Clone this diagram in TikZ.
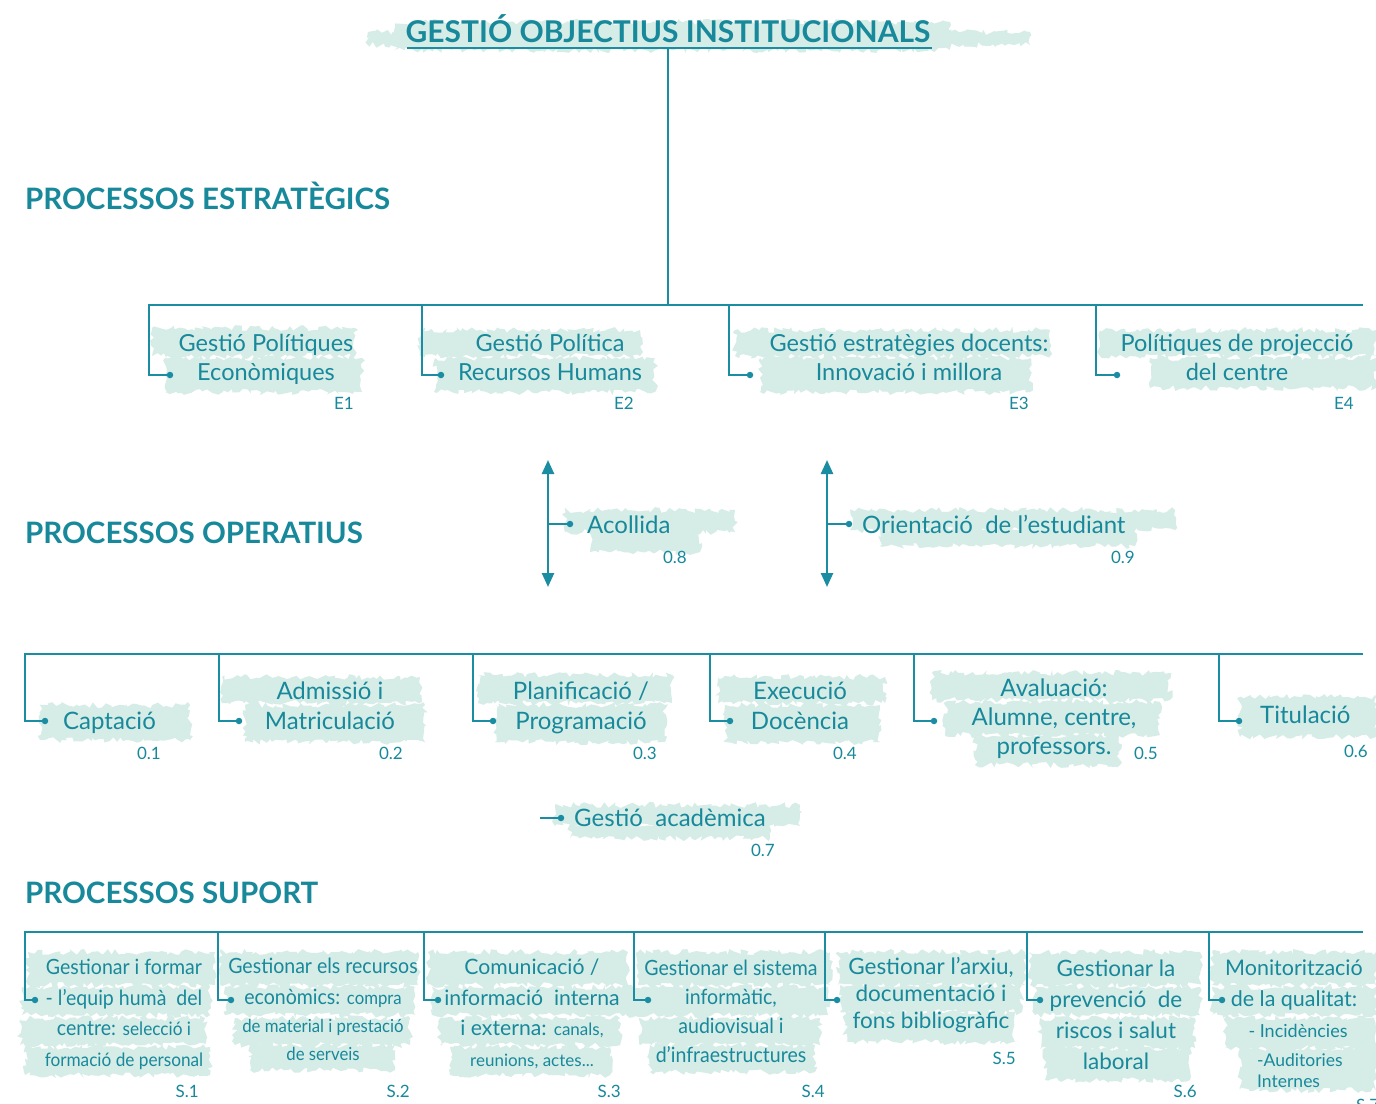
\documentclass[tikz,border=0pt]{standalone}
\usepackage{fontspec}
\setmainfont{Lato}
\newfontfamily\condf[FakeStretch=0.93]{Lato}
\usetikzlibrary{arrows.meta,decorations.pathmorphing}
\definecolor{txtc}{HTML}{17899B}
\definecolor{linec}{HTML}{1B8DA3}
\definecolor{washc}{HTML}{D6ECE7}
\tikzset{
  ln/.style={draw=linec, line width=2.4pt, line cap=rect},
  dotn/.style={circle, fill=linec, inner sep=0pt, minimum size=6.5pt},
  txt/.style={text=txtc, font=\fontsize{23.5}{29}\selectfont, align=center, inner sep=0pt, anchor=base},
  otxt/.style={text=txtc, font=\fontsize{24}{30}\selectfont, align=center, inner sep=0pt, anchor=base},
  stxt/.style={text=txtc, font=\condf\fontsize{21}{30.5}\selectfont, align=center, inner sep=0pt, anchor=base},
  ntxt/.style={text=txtc, font=\fontsize{22}{30.5}\selectfont, align=center, inner sep=0pt, anchor=base},
  codel/.style={text=txtc, font=\fontsize{17}{20}\selectfont, inner sep=0pt, anchor=base east},
  head/.style={text=txtc, font=\bfseries\fontsize{29.5}{32}\selectfont, inner sep=0pt, anchor=base west},
  titl/.style={text=txtc, font=\bfseries\fontsize{30}{32}\selectfont, inner sep=0pt, anchor=base},
  wash/.style={fill=washc, decorate, decoration={random steps, segment length=3.5pt, amplitude=3pt}},
  dblarr/.style={ln, line cap=butt, {Triangle[length=14pt,width=12pt]}-{Triangle[length=14pt,width=12pt]}},
}
\newcommand\wsh[4]{\fill[wash] (#1,#2) rectangle (#3,#4);}
\newcommand\sma{\fontsize{18.5}{30}\selectfont}
\newcommand\smb{\fontsize{18}{30}\selectfont}
\newcommand\smc{\fontsize{17}{30}\selectfont}
\begin{document}
\begin{tikzpicture}[x=1pt,y=-1pt]
\pgfmathsetseed{11}
\clip (0,0) rectangle (1376,1103);
\fill[white] (0,0) rectangle (1376,1103);

% ---------- washes ----------
\wsh{395}{22}{950}{50}\wsh{368}{32}{1030}{45}
\wsh{152}{328}{355}{356}\wsh{165}{358}{362}{392}
\wsh{420}{330}{640}{356}\wsh{435}{358}{655}{392}
\wsh{735}{330}{1050}{356}\wsh{760}{358}{1030}{392}
\wsh{1100}{330}{1376}{356}\wsh{1150}{358}{1376}{388}
\wsh{565}{510}{735}{532}\wsh{590}{530}{700}{552}
\wsh{850}{510}{1175}{530}\wsh{880}{528}{1135}{546}
\wsh{40}{705}{190}{740}
\wsh{222}{677}{420}{703}\wsh{245}{705}{425}{742}
\wsh{478}{675}{672}{703}\wsh{495}{705}{665}{742}
\wsh{718}{677}{885}{703}\wsh{725}{705}{880}{742}
\wsh{932}{673}{1170}{700}\wsh{945}{702}{1160}{735}\wsh{975}{735}{1120}{765}
\wsh{1240}{697}{1376}{737}
\wsh{555}{805}{800}{826}\wsh{570}{824}{770}{838}
\wsh{28}{952}{215}{985}\wsh{22}{987}{210}{1015}\wsh{20}{1018}{205}{1045}\wsh{25}{1047}{210}{1075}
\wsh{220}{952}{418}{985}\wsh{225}{987}{415}{1015}\wsh{235}{1018}{410}{1045}\wsh{250}{1045}{395}{1070}
\wsh{428}{952}{628}{985}\wsh{432}{987}{625}{1015}\wsh{440}{1018}{620}{1045}\wsh{450}{1047}{610}{1075}
\wsh{638}{952}{830}{985}\wsh{622}{987}{828}{1015}\wsh{640}{1018}{820}{1045}\wsh{650}{1045}{815}{1072}
\wsh{838}{952}{1025}{985}\wsh{840}{985}{1022}{1012}\wsh{845}{1012}{1015}{1042}
\wsh{1030}{952}{1200}{985}\wsh{1035}{987}{1200}{1015}\wsh{1040}{1018}{1195}{1048}\wsh{1045}{1048}{1190}{1080}
\wsh{1212}{952}{1376}{985}\wsh{1212}{987}{1376}{1015}\wsh{1225}{1018}{1376}{1048}\wsh{1240}{1048}{1376}{1090}

% ---------- title ----------
\node[titl] (title) at (668,42) {GESTIÓ OBJECTIUS INSTITUCIONALS};
\coordinate (ulL) at (407,48);
\coordinate (ulR) at (932,48);
\coordinate (ulM) at (668,48);
\draw[ln, line cap=butt] (ulL) -- (ulR);

% ---------- headings ----------
\node[head] (hE) at (25,209) {PROCESSOS ESTRATÈGICS};
\node[head] (hO) at (25,543) {PROCESSOS OPERATIUS};
\node[head] (hS) at (25,903) {PROCESSOS SUPORT};

% ---------- strategic ----------
\coordinate (busE) at (668,305);
\coordinate (eR) at (1362,305);
\coordinate (e1) at (149,305);
\coordinate (e2) at (422,305);
\coordinate (e3) at (729,305);
\coordinate (e4) at (1096,305);
\draw[ln, line cap=butt] (ulM) -- (busE);
\draw[ln] (e1) -- (eR);
\node[dotn] (dE1) at (170,375) {};
\node[dotn] (dE2) at (441,375) {};
\node[dotn] (dE3) at (750,375) {};
\node[dotn] (dE4) at (1117,375) {};
\draw[ln] (e1) |- (dE1);
\draw[ln] (e2) |- (dE2);
\draw[ln] (e3) |- (dE3);
\draw[ln] (e4) |- (dE4);
\node[txt] (tE1) at (266,380) {Gestió Polítiques\\Econòmiques};
\node[txt] (tE2) at (550,380) {Gestió Política\\Recursos Humans};
\node[txt] (tE3) at (909,380) {Gestió estratègies docents:\\Innovació i millora};
\node[txt] (tE4) at (1237,380) {Polítiques de projecció\\del centre};
\node[codel] (cE1) at (354,409) {E1};
\node[codel] (cE2) at (634,409) {E2};
\node[codel] (cE3) at (1029,409) {E3};
\node[codel] (cE4) at (1354,409) {E4};

% ---------- operative arrows ----------
\coordinate (a1t) at (548,460);
\coordinate (a1b) at (548,587);
\coordinate (a1m) at (548,524);
\coordinate (a2t) at (827,460);
\coordinate (a2b) at (827,587);
\coordinate (a2m) at (827,524);
\draw[dblarr] (a1t) -- (a1b);
\draw[dblarr] (a2t) -- (a2b);
\node[dotn] (dA) at (570,524) {};
\node[dotn] (dOr) at (849,524) {};
\draw[ln, line cap=butt] (a1m) -- (dA);
\draw[ln, line cap=butt] (a2m) -- (dOr);
\node[otxt, anchor=base west] (tA) at (587,533) {Acollida};
\node[otxt, anchor=base west] (tOr) at (862,533) {Orientació\ \ de l’estudiant};
\node[codel] (c08) at (687,563) {0.8};
\node[codel] (c09) at (1135,563) {0.9};

% ---------- operative row ----------
\coordinate (o1) at (25,654);
\coordinate (o2) at (219,654);
\coordinate (o3) at (473,654);
\coordinate (o4) at (710,654);
\coordinate (o5) at (914,654);
\coordinate (o6) at (1219,654);
\coordinate (oR) at (1362,654);
\draw[ln] (o1) -- (oR);
\node[dotn] (dO1) at (45,721) {};
\node[dotn] (dO2) at (239,721) {};
\node[dotn] (dO3) at (493,721) {};
\node[dotn] (dO4) at (730,721) {};
\node[dotn] (dO5) at (934,721) {};
\node[dotn] (dO6) at (1239,721) {};
\draw[ln] (o1) |- (dO1);
\draw[ln] (o2) |- (dO2);
\draw[ln] (o3) |- (dO3);
\draw[ln] (o4) |- (dO4);
\draw[ln] (o5) |- (dO5);
\draw[ln] (o6) |- (dO6);
\node[otxt, anchor=base west] (tO1) at (63,729) {Captació};
\node[otxt] (tO2) at (330,729) {Admissió i\\Matriculació};
\node[otxt] (tO3) at (581,729) {Planificació /\\Programació};
\node[otxt] (tO4) at (800,729) {Execució\\Docència};
\node[otxt, font=\fontsize{24}{29}\selectfont] (tO5) at (1054,754) {Avaluació:\\Alumne, centre,\\professors.};
\node[otxt, anchor=base west] (tO6) at (1260,723) {Titulació};
\node[codel] (c01) at (161,759) {0.1};
\node[codel] (c02) at (403,759) {0.2};
\node[codel] (c03) at (657,759) {0.3};
\node[codel] (c04) at (857,759) {0.4};
\node[codel] (c05) at (1158,759) {0.5};
\node[codel] (c06) at (1368,757) {0.6};

\coordinate (gL) at (540,818);
\node[dotn] (dG) at (561,818) {};
\draw[ln, line cap=butt] (gL) -- (dG);
\node[otxt, anchor=base west] (tG) at (574,826) {Gestió\ \ acadèmica};
\node[codel] (c07) at (775,856) {0.7};

% ---------- support row ----------
\coordinate (s1) at (25,932);
\coordinate (s2) at (218,932);
\coordinate (s3) at (424,932);
\coordinate (s4) at (634,932);
\coordinate (s5) at (825,932);
\coordinate (s6) at (1027,932);
\coordinate (s7) at (1209,932);
\coordinate (sR) at (1362,932);
\draw[ln] (s1) -- (sR);
\node[dotn] (dS1) at (35,1000) {};
\node[dotn] (dS2) at (231,1000) {};
\node[dotn] (dS3) at (438,1000) {};
\node[dotn] (dS4) at (648,1000) {};
\node[dotn] (dS5) at (837,1000) {};
\node[dotn] (dS6) at (1040,1000) {};
\node[dotn] (dS7) at (1222,1000) {};
\draw[ln] (s1) |- (dS1);
\draw[ln] (s2) |- (dS2);
\draw[ln] (s3) |- (dS3);
\draw[ln] (s4) |- (dS4);
\draw[ln] (s5) |- (dS5);
\draw[ln] (s6) |- (dS6);
\draw[ln] (s7) |- (dS7);
\node[stxt] (tS1) at (124,1066) {Gestionar i formar\\- l’equip humà\ \ del\\centre: {\sma selecció i}\\{\sma formació de personal}};
\node[stxt] (tS2) at (323,1060) {Gestionar els recursos\\econòmics: {\smb compra}\\[-2pt]{\smb de material i prestació}\\[-3pt]{\smb de serveis}};
\node[ntxt, font=\fontsize{21.2}{30.5}\selectfont] (tS3) at (532,1066) {Comunicació /\\informació\ \ interna\\i externa: {\smc canals,}\\{\smc reunions, actes...}};
\node[stxt] (tS4) at (731,1062) {Gestionar el sistema\\[-1.5pt]informàtic,\\[-1.5pt]audiovisual i\\[-1.5pt]d’infraestructures};
\node[ntxt, font=\fontsize{22.5}{30.5}\selectfont] (tS5) at (931,1028) {Gestionar l’arxiu,\\[-3.5pt]documentació i\\[-3.5pt]fons bibliogràfic};
\node[ntxt, font=\fontsize{22.5}{31}\selectfont] (tS6) at (1116,1069) {Gestionar la\\prevenció\ \ de\\riscos i salut\\laboral};
\node[ntxt, font=\fontsize{21.5}{31}\selectfont] (tS7) at (1294,1006) {Monitorització\\de la qualitat:};
\node[text=txtc, font=\fontsize{18}{24}\selectfont, inner sep=0pt, anchor=base] (tS7b) at (1298,1037) {- Incidències};
\node[text=txtc, font=\fontsize{17.5}{24}\selectfont, inner sep=0pt, anchor=base west, align=left] (tS7c) at (1257,1087) {-Auditories\\[-3pt]Internes};
\node[codel] (cS1) at (199,1097) {S.1};
\node[codel] (cS2) at (410,1097) {S.2};
\node[codel] (cS3) at (621,1097) {S.3};
\node[codel] (cS4) at (825,1097) {S.4};
\node[codel] (cS5) at (1016,1064) {S.5};
\node[codel] (cS6) at (1197,1097) {S.6};
\node[codel, anchor=base west] (cS7) at (1356,1111) {S.7};
\end{tikzpicture}
\end{document}
